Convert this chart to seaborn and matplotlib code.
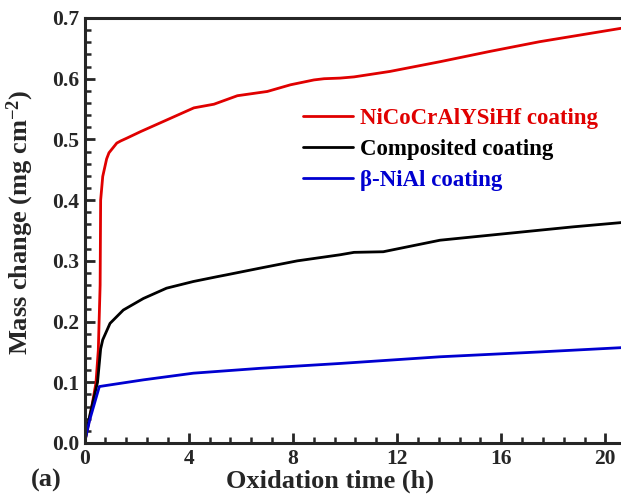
import matplotlib
matplotlib.use("Agg")
import matplotlib.pyplot as plt
import seaborn as sns
import pandas as pd
from matplotlib.ticker import MultipleLocator

# ---- data ----
t_red = [0, 0.21, 0.44, 0.53, 0.60, 0.62, 0.70, 0.85, 0.94, 1.24, 1.39, 1.62, 2.16, 3.05,
         4.2, 4.97, 5.87, 7.02, 7.91, 8.81, 9.2, 9.81, 10.35, 11.73, 13.65, 15.57, 17.48, 20.6]
v_red = [0, 0.043, 0.099, 0.153, 0.26, 0.40, 0.439, 0.468, 0.478, 0.494, 0.4975, 0.502, 0.513, 0.530,
         0.552, 0.558, 0.572, 0.579, 0.590, 0.598, 0.600, 0.601, 0.603, 0.612, 0.628, 0.645, 0.661, 0.683]

t_black = [0, 0.2, 0.5, 0.62, 0.70, 0.98, 1.49, 2.26, 3.15, 4.18, 5.1, 5.46, 6.74, 8.17,
           9.81, 10.35, 11.47, 13.65, 16.2, 18.76, 20.6]
v_black = [0, 0.045, 0.1, 0.155, 0.170, 0.197, 0.219, 0.238, 0.255, 0.266, 0.274, 0.277, 0.288, 0.300,
           0.310, 0.314, 0.315, 0.334, 0.345, 0.356, 0.363]

t_blue = [0, 0.2, 0.57, 0.72, 2.26, 4.18, 6.74, 9.81, 13.65, 17.48, 20.6]
v_blue = [0, 0.038, 0.093, 0.094, 0.104, 0.115, 0.123, 0.131, 0.142, 0.150, 0.157]

series_names = ["NiCoCrAlYSiHf coating", "Composited coating", "β-NiAl coating"]
series_colors = ["#E00000", "#000000", "#0000D0"]

x_ticks = [0, 4, 8, 12, 16, 20]
y_ticks = [0.0, 0.1, 0.2, 0.3, 0.4, 0.5, 0.6, 0.7]

df = pd.concat([
    pd.DataFrame({"t": t_red, "v": v_red, "s": series_names[0]}),
    pd.DataFrame({"t": t_black, "v": v_black, "s": series_names[1]}),
    pd.DataFrame({"t": t_blue, "v": v_blue, "s": series_names[2]}),
], ignore_index=True)

sns.set_style("ticks")
plt.rcParams["font.family"] = ["Liberation Serif", "DejaVu Serif"]
plt.rcParams["font.weight"] = "bold"
plt.rcParams["mathtext.fontset"] = "custom"
plt.rcParams["mathtext.rm"] = "Liberation Serif:bold"
plt.rcParams["mathtext.bf"] = "Liberation Serif:bold"
plt.rcParams["mathtext.default"] = "bf"

fig = plt.figure(figsize=(6.21, 4.97), dpi=100)
ax = fig.add_axes([84.5 / 621, 1 - 443 / 497, 1 - 84.5 / 621, (443 - 18) / 497])

sns.lineplot(data=df, x="t", y="v", hue="s", palette=dict(zip(series_names, series_colors)),
             hue_order=series_names, linewidth=2.0, ax=ax, sort=False, estimator=None)

ax.set_xlim(0, 20.6)
ax.set_ylim(0, 0.7)
ax.set_xticks(x_ticks)
ax.set_yticks(y_ticks)
ax.set_xticklabels([str(v) for v in x_ticks])
ax.set_yticklabels([f"{v:.1f}" for v in y_ticks])
ax.xaxis.set_minor_locator(MultipleLocator(0.8))
ax.yaxis.set_minor_locator(MultipleLocator(0.02))
ax.tick_params(which="major", direction="in", length=7, width=2, labelsize=15.5, pad=4)
ax.tick_params(which="minor", direction="in", length=4, width=1.8)
ax.tick_params(top=False, right=False, which="both")
for side in ["left", "bottom", "top"]:
    ax.spines[side].set_linewidth(2.2)
ax.spines["right"].set_visible(False)

ax.set_xlabel("Oxidation time (h)", fontsize=19, fontweight="bold")
ax.xaxis.set_label_coords((330 - 84.5) / 536.5, -(470 - 443) / 425)
ax.set_ylabel("Mass change (mg cm$^{-2}$)", fontsize=19, fontweight="bold")
ax.yaxis.set_label_coords(-(84.5 - 36) / 536.5, (443 - 222) / 425)

leg = ax.legend(loc="upper left", bbox_to_anchor=(303 / 621, 1 - 108 / 497),
                bbox_transform=fig.transFigure, frameon=False, borderpad=0, borderaxespad=0,
                handlelength=2.2, handletextpad=0.3, labelspacing=0.43,
                prop={"family": "Liberation Serif", "weight": "bold", "size": 16.5})
for txt, col in zip(leg.get_texts(), series_colors):
    txt.set_color(col)
for ln in leg.get_lines():
    ln.set_linewidth(2.0)

fig.text(46 / 621, 1 - 480 / 497, "(a)", fontsize=19, fontweight="bold", ha="center", va="center")

fig.savefig("out.png", dpi=100)
